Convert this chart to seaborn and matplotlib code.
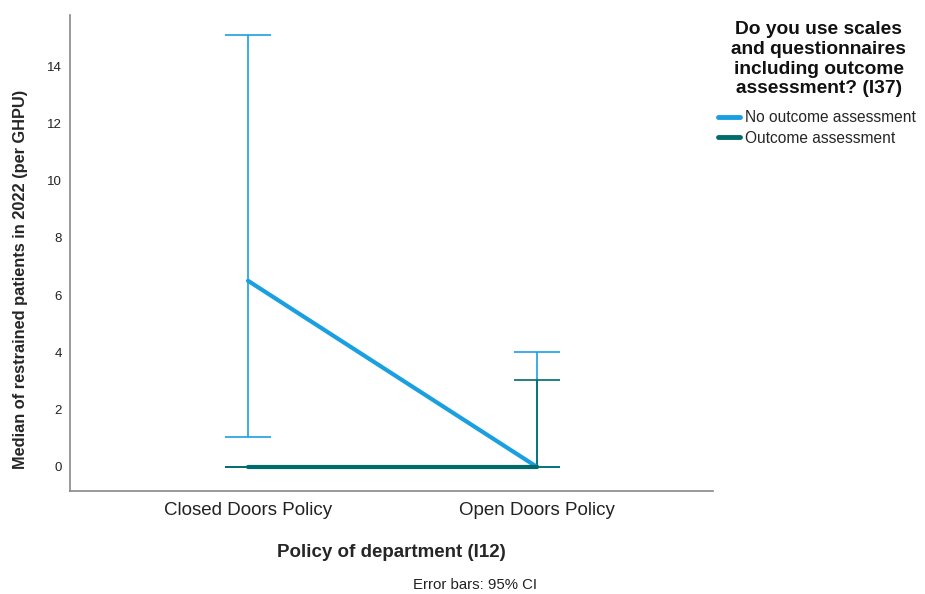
import numpy as np
import pandas as pd
import matplotlib
matplotlib.use("Agg")
import matplotlib.pyplot as plt
import seaborn as sns
from matplotlib.lines import Line2D

# Category and series data
policies = ["Closed Doors Policy", "Open Doors Policy"]
groups = ["No outcome assessment", "Outcome assessment"]
median_no_outcome = [6.5, 0.0]
median_outcome = [0.0, 0.0]
ci_low_no_outcome = [1.05, 0.0]
ci_high_no_outcome = [15.08, 4.02]
ci_low_outcome = [0.0, 0.0]
ci_high_outcome = [0.0, 3.04]
y_ticks = [0, 2, 4, 6, 8, 10, 12, 14]

colors = {"No outcome assessment": "#1a9fe0", "Outcome assessment": "#006b6b"}

df = pd.DataFrame({
    "policy": policies * 2,
    "group": [groups[0]] * 2 + [groups[1]] * 2,
    "value": median_no_outcome + median_outcome,
    "low": ci_low_no_outcome + ci_low_outcome,
    "high": ci_high_no_outcome + ci_high_outcome,
})

sns.set_style("white")
plt.rcParams["font.family"] = ["Liberation Sans", "DejaVu Sans"]

fig = plt.figure(figsize=(9.25, 5.94), dpi=100)
ax = fig.add_axes([0.0757, 0.1734, 0.6951, 0.8013])

x_pos = {p: i for i, p in enumerate(policies)}

# 95% CI error bars, drawn per group
for g in groups:
    sub = df[df["group"] == g]
    xs = sub["policy"].map(x_pos).to_numpy()
    vals = sub["value"].to_numpy()
    yerr = np.vstack([vals - sub["low"].to_numpy(), sub["high"].to_numpy() - vals])
    ax.errorbar(xs, vals, yerr=yerr, fmt="none", ecolor=colors[g],
                elinewidth=1.2, capsize=16.5, capthick=1.2, zorder=2)

# Median lines
sns.pointplot(data=df, x="policy", y="value", hue="group", order=policies,
              hue_order=groups, palette=colors, errorbar=None, markers="",
              linewidth=3, ax=ax, legend=False)
for ln in ax.lines[-2:]:
    ln.set_zorder(3)

ax.set_xlim(-0.616, 1.609)
ax.set_ylim(-0.84, 15.78)
ax.set_yticks(y_ticks)
ax.set_yticklabels([str(t) for t in y_ticks], fontsize=9.5, color="#222222")
ax.set_xticks([0, 1])
ax.set_xticklabels(policies, fontsize=13.5, color="#222222")
ax.tick_params(axis="y", length=0, pad=6)
ax.tick_params(axis="x", length=0, pad=8)

for side in ["top", "right"]:
    ax.spines[side].set_visible(False)
for side in ["left", "bottom"]:
    ax.spines[side].set_color("#888888")
    ax.spines[side].set_linewidth(1.2)

ax.set_xlabel("Policy of department (I12)", fontsize=13.5, fontweight="bold", labelpad=18)
ax.set_ylabel("Median of restrained patients in 2022 (per GHPU)", fontsize=11.8,
              fontweight="bold")
ax.yaxis.set_label_coords(-0.066, 0.445)

# Legend title and entries
fig.text(0.885, 0.965, "Do you use scales\nand questionnaires\nincluding outcome\nassessment? (I37)",
         fontsize=13.8, fontweight="bold", ha="center", va="top", linespacing=1.22,
         color="#111111")
handles = [Line2D([0], [0], color=colors[g], lw=3.5) for g in groups]
fig.legend(handles, groups, loc="upper left", bbox_to_anchor=(0.776, 0.814),
           frameon=False, fontsize=11.2, handlelength=1.45, handletextpad=0.3,
           labelspacing=0.33, borderpad=0, borderaxespad=0)

fig.text(0.513, 0.008, "Error bars: 95% CI", fontsize=10.8, ha="center", color="#222222")

fig.savefig("out.png", dpi=100)
